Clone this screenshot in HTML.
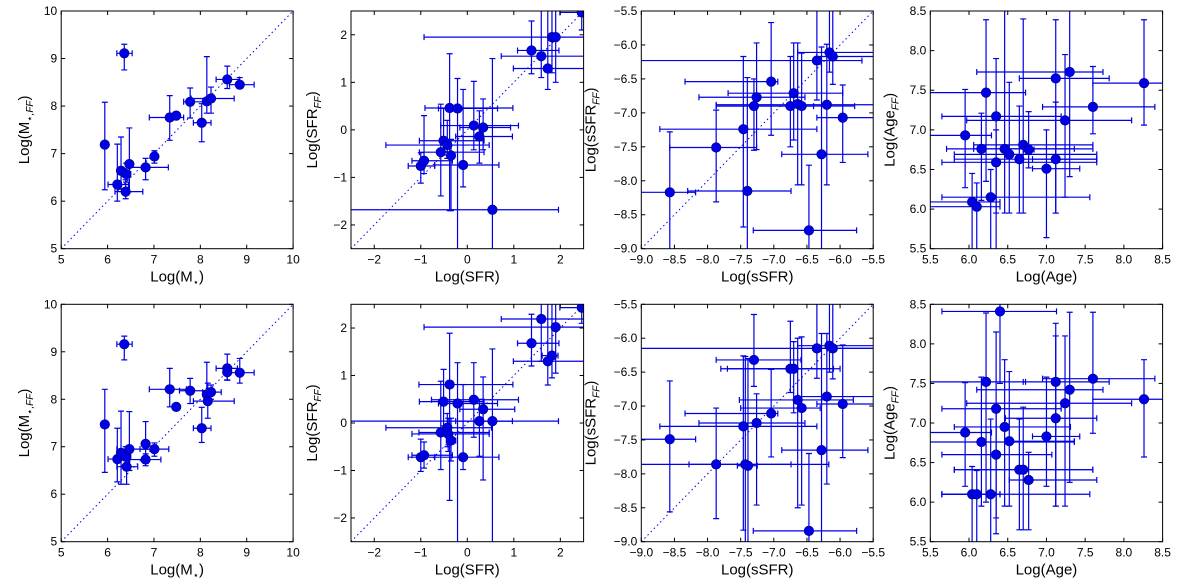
<!DOCTYPE html>
<html><head><meta charset="utf-8"><style>
html,body{margin:0;padding:0;background:#fff;}
svg{display:block;font-family:"Liberation Sans","DejaVu Sans",sans-serif;}
</style></head><body>
<svg id="chart" width="1200" height="586" viewBox="0 0 1200 586" xmlns="http://www.w3.org/2000/svg"></svg>
<script>
// ---- Panel 1: Log(M*) top ----
const p1X=[5.94,6.36,6.21,6.29,6.40,6.39,6.47,6.82,7.01,7.34,7.48,7.78,8.03,8.14,8.23,8.58,8.85];
const p1Y=[7.19,9.11,6.35,6.64,6.57,6.20,6.78,6.71,6.94,7.76,7.80,8.09,7.65,8.10,8.16,8.56,8.45];
const p1XLo=[5.89,6.20,6.01,6.25,6.30,6.16,6.42,6.48,6.95,6.90,7.43,7.64,7.85,8.10,7.80,8.34,8.63];
const p1XHi=[5.99,6.53,6.45,6.33,6.50,6.76,6.52,7.31,7.07,7.64,7.53,8.13,8.23,8.18,8.73,8.84,9.16];
const p1YLo=[6.24,8.76,6.00,6.25,6.40,6.05,6.20,6.45,6.80,7.28,7.75,7.75,7.25,7.85,7.85,8.37,8.37];
const p1YHi=[8.08,9.30,7.20,7.35,6.80,6.45,7.54,6.90,7.06,8.22,7.85,8.38,8.05,9.04,8.40,8.84,8.60];
// ---- Panel 2: Log(SFR) top ----
const p2X=[-1.0,-0.93,-0.57,-0.51,-0.43,-0.38,-0.35,-0.21,-0.09,0.14,0.34,0.26,0.54,1.38,1.59,1.73,1.82,1.90,2.46];
const p2Y=[-0.76,-0.65,-0.47,-0.23,-0.32,0.46,-0.54,0.45,-0.74,0.09,0.05,-0.14,-1.68,1.67,1.55,1.29,1.95,1.95,2.47];
const p2XLo=[-1.27,-1.19,-1.03,-1.03,-1.75,-0.91,-0.40,-0.62,-0.70,-0.57,-0.16,-0.25,-2.57,1.08,0.73,0.99,-0.93,1.85,1.99];
const p2XHi=[-0.70,-0.32,0.36,0.36,0.47,0.98,-0.30,0.65,0.68,1.10,0.93,0.97,1.96,1.97,2.6,2.6,2.6,1.95,2.6];
const p2YLo=[-1.12,-0.92,-1.39,-0.53,-0.6,-1.7,-1.7,-2.6,-1.20,-0.42,-0.42,-0.7,-2.6,1.18,1.1,0.85,1.2,1.0,2.1];
const p2YHi=[-0.48,0.30,0.54,0.45,0.2,1.60,-0.2,1.08,0.85,1.02,0.65,0.4,1.50,2.29,2.6,2.6,2.6,2.6,2.6];
// ---- Panel 3: Log(sSFR) top ----
const p3X=[-8.57,-7.87,-7.46,-7.40,-7.30,-7.26,-7.04,-6.75,-6.70,-6.64,-6.58,-6.47,-6.35,-6.28,-6.20,-6.16,-6.11,-5.96];
const p3Y=[-8.17,-7.51,-7.24,-8.15,-6.90,-6.77,-6.54,-6.90,-6.71,-6.87,-6.90,-8.73,-6.23,-7.61,-6.88,-6.11,-6.17,-7.07];
const p3XLo=[-9.1,-8.57,-8.72,-8.30,-7.87,-8.13,-8.34,-7.87,-7.69,-6.70,-6.80,-7.31,-9.1,-6.88,-7.87,-6.64,-6.35,-6.35];
const p3XHi=[-8.18,-7.26,-6.35,-6.74,-6.70,-6.53,-6.94,-5.78,-5.96,-6.58,-6.40,-5.75,-5.67,-5.58,-5.4,-5.4,-5.4,-5.4];
const p3YLo=[-9.1,-8.31,-8.68,-9.1,-7.55,-7.54,-7.33,-7.5,-7.4,-8.06,-8.06,-9.1,-6.81,-9.1,-8.06,-6.4,-6.58,-7.73];
const p3YHi=[-7.28,-6.96,-6.17,-6.48,-6.50,-5.97,-5.67,-6.17,-5.97,-5.97,-6.12,-7.77,-5.4,-6.03,-5.99,-5.4,-5.4,-6.59];
// ---- Panel 4: Log(Age) top ----
const p4X=[5.95,6.04,6.10,6.16,6.22,6.28,6.35,6.35,6.46,6.52,6.65,6.70,6.77,7.00,7.12,7.12,7.24,7.30,7.60,8.26];
const p4Y=[6.93,6.09,6.03,6.76,7.47,6.15,7.17,6.59,6.76,6.69,6.63,6.81,6.75,6.51,6.63,7.65,7.12,7.73,7.29,7.59];
const p4XLo=[5.4,5.4,5.4,5.71,5.4,5.65,5.65,5.65,6.06,5.81,5.81,6.06,6.7,6.82,6.82,6.65,5.97,6.10,6.95,7.60];
const p4XHi=[6.29,6.40,6.40,7.36,6.73,7.56,7.19,7.65,7.60,7.65,7.65,7.60,6.84,7.43,7.65,7.81,8.10,7.73,8.40,8.6];
const p4YLo=[6.27,5.4,5.4,6.11,6.35,5.4,5.95,5.4,5.95,5.95,5.95,5.95,6.52,5.64,5.95,5.95,6.15,6.41,6.95,7.06];
const p4YHi=[7.51,6.45,6.33,7.21,8.39,6.5,7.9,7.0,8.6,7.6,7.3,8.4,7.23,7.0,7.35,8.39,7.95,8.6,7.8,8.39];
// ---- Panel 5: Log(M*) bottom ----
const p5X=[5.94,6.36,6.21,6.29,6.39,6.41,6.47,6.82,6.82,7.01,7.34,7.48,7.78,8.03,8.14,8.23,8.16,8.58,8.58,8.85];
const p5Y=[7.47,9.16,6.74,6.87,6.79,6.58,6.95,7.06,6.73,6.95,8.21,7.84,8.18,7.39,8.10,8.15,7.96,8.65,8.57,8.56];
const p5XLo=[5.89,6.20,6.01,6.25,6.30,6.20,6.20,6.77,6.48,6.70,6.90,7.43,7.55,7.85,8.10,8.05,7.85,8.34,8.53,8.63];
const p5XHi=[5.99,6.53,6.45,6.33,6.50,6.65,7.05,6.87,7.15,7.32,7.70,7.53,8.13,8.23,8.18,8.45,8.73,8.80,8.63,9.16];
const p5YLo=[6.46,8.83,6.26,6.21,6.60,6.21,6.50,6.65,6.60,6.80,7.84,7.79,7.91,7.09,7.91,8.0,7.6,8.41,8.40,8.34];
const p5YHi=[8.21,9.33,7.39,7.75,7.0,6.76,7.74,7.53,6.85,7.08,8.65,7.89,8.44,7.83,8.78,8.3,8.34,8.95,8.7,8.86];
// ---- Panel 6: Log(SFR) bottom ----
const p6X=[-1.0,-0.93,-0.57,-0.51,-0.38,-0.43,-0.41,-0.35,-0.21,-0.09,0.14,0.34,0.26,0.54,1.38,1.59,1.73,1.82,1.90,2.46];
const p6Y=[-0.72,-0.68,-0.20,0.45,0.81,-0.10,-0.23,-0.37,0.41,-0.72,0.49,0.29,0.04,0.04,1.68,2.19,1.30,1.42,2.02,2.43];
const p6XLo=[-1.27,-1.19,-1.04,-1.03,-1.04,-1.75,-1.19,-0.45,-0.62,-0.70,-0.77,-0.16,-0.25,-2.57,1.08,0.73,0.99,1.61,-0.93,1.99];
const p6XHi=[-0.70,-0.32,0.47,0.36,0.98,0.52,0.47,-0.25,0.65,0.68,1.10,1.02,0.97,1.96,1.97,2.6,2.6,1.95,2.6,2.6];
const p6YLo=[-1.02,-0.95,-0.98,-0.06,-1.63,-0.5,-0.6,-0.8,-2.6,-0.98,-0.3,-1.2,-0.7,-2.6,1.2,1.3,0.8,0.95,1.05,2.1];
const p6YHi=[-0.34,-0.4,0.88,1.13,1.89,0.2,0.1,0.1,1.27,0.81,1.27,0.97,0.5,1.56,2.29,2.6,2.6,2.6,2.6,2.6];
// ---- Panel 7: Log(sSFR) bottom ----
const p7X=[-8.57,-7.87,-7.46,-7.43,-7.39,-7.30,-7.26,-7.04,-6.75,-6.70,-6.64,-6.58,-6.47,-6.35,-6.28,-6.20,-6.16,-6.11,-5.96];
const p7Y=[-7.49,-7.86,-7.30,-7.86,-7.88,-6.32,-7.25,-7.11,-6.45,-6.45,-6.91,-7.03,-8.84,-6.15,-7.65,-6.86,-6.11,-6.15,-6.97];
const p7XLo=[-9.1,-8.28,-8.72,-9.1,-7.55,-7.87,-8.13,-8.34,-7.70,-7.80,-7.52,-7.5,-7.31,-9.1,-6.88,-6.64,-6.64,-6.35,-6.35];
const p7XHi=[-8.18,-6.74,-6.35,-6.17,-7.25,-6.59,-6.53,-6.94,-6.0,-6.1,-5.8,-6.3,-5.75,-5.4,-5.58,-5.4,-5.4,-5.4,-5.4];
const p7YLo=[-8.56,-8.66,-8.83,-9.1,-9.1,-6.71,-8.46,-7.75,-6.8,-7.1,-8.5,-8.46,-9.1,-6.59,-9.1,-8.15,-6.5,-6.6,-7.76];
const p7YHi=[-6.63,-7.03,-6.26,-6.27,-6.3,-5.65,-6.82,-6.46,-5.75,-6.05,-6.0,-5.98,-7.7,-5.4,-5.93,-5.93,-5.4,-5.4,-6.1];
// ---- Panel 8: Log(Age) bottom ----
const p8X=[5.95,6.04,6.10,6.16,6.22,6.28,6.35,6.35,6.40,6.46,6.52,6.65,6.70,6.77,7.00,7.12,7.12,7.24,7.30,7.60,8.26];
const p8Y=[6.88,6.10,6.10,6.76,7.52,6.10,7.18,6.60,8.41,6.95,6.77,6.41,6.41,6.28,6.83,7.06,7.52,7.25,7.42,7.56,7.30];
const p8XLo=[5.4,5.65,5.65,5.4,5.4,5.65,5.65,5.65,5.65,5.81,6.47,5.81,5.81,6.52,6.82,6.47,6.70,5.97,6.10,6.95,7.60];
const p8XHi=[6.29,6.40,6.40,7.36,6.73,7.56,7.19,7.07,7.13,7.31,7.36,7.60,7.60,7.65,7.43,7.65,7.81,8.10,7.73,8.40,8.6];
const p8YLo=[6.2,5.4,5.4,5.95,6.0,5.4,5.6,5.8,7.5,5.95,5.95,5.65,5.65,5.65,6.2,5.95,5.95,5.95,6.25,6.87,6.57];
const p8YHi=[7.51,6.45,6.4,7.58,8.39,7.05,8.15,7.2,8.6,7.8,7.65,7.05,7.2,6.63,7.58,8.1,8.26,8.1,8.4,8.4,7.8];
// ---- Tick labels ----
const massTicks=["5","6","7","8","9","10"];
const sfrTicks=["−2","−1","0","1","2"];
const ssfrTicks=["−9.0","−8.5","−8.0","−7.5","−7.0","−6.5","−6.0","−5.5"];
const ageTicks=["5.5","6.0","6.5","7.0","7.5","8.0","8.5"];

const NS="http://www.w3.org/2000/svg";
const svg=document.getElementById('chart');
function mk(tag,attrs,parent){const e=document.createElementNS(NS,tag);for(const k in attrs)e.setAttribute(k,attrs[k]);(parent||svg).appendChild(e);return e;}
function num(s){return parseFloat(s.replace('−','-'));}

const cols=[[61.2,293.1],[351,583.6],[641.3,873.2],[930.3,1162.6]];
const rows=[[11,248.7],[304.3,541.7]];
const kinds=[
 {dom:[5,10],ticks:massTicks,xl:['Log(M','⋆',')'],yl:['Log(M','⋆,FF',')'],key:'mass',diag:true,yoff:32},
 {dom:[-2.5,2.5],ticks:sfrTicks,xl:['Log(SFR)','',''],yl:['Log(SFR','FF',')'],key:'sfr',diag:true,yoff:34},
 {dom:[-9,-5.5],ticks:ssfrTicks,xl:['Log(sSFR)','',''],yl:['Log(sSFR','FF',')'],key:'ssfr',diag:true,yoff:46},
 {dom:[5.5,8.5],ticks:ageTicks,xl:['Log(Age)','',''],yl:['Log(Age','FF',')'],key:'age',diag:false,yoff:36}
];
const data=[
 [p1X,p1Y,p1XLo,p1XHi,p1YLo,p1YHi],[p2X,p2Y,p2XLo,p2XHi,p2YLo,p2YHi],
 [p3X,p3Y,p3XLo,p3XHi,p3YLo,p3YHi],[p4X,p4Y,p4XLo,p4XHi,p4YLo,p4YHi],
 [p5X,p5Y,p5XLo,p5XHi,p5YLo,p5YHi],[p6X,p6Y,p6XLo,p6XHi,p6YLo,p6YHi],
 [p7X,p7Y,p7XLo,p7XHi,p7YLo,p7YHi],[p8X,p8Y,p8XLo,p8XHi,p8YLo,p8YHi]
];
const BLUE='#0000e6';

function label(g,parts,x,y,rot,name){
  const t=mk('text',{x:x,y:y,'font-size':15,'text-anchor':'middle',fill:'#000'},g);
  if(rot) t.setAttribute('transform','rotate(-90 '+x+' '+y+')');
  
  
  t.appendChild(document.createTextNode(parts[0]));
  if(parts[1]){const s=mk('tspan',{'font-size':10,'font-style':'italic',dy:4},t);s.textContent=parts[1];
    const c=mk('tspan',{dy:-4},t);c.textContent=parts[2];}
}

for(let r=0;r<2;r++)for(let c=0;c<4;c++){
  const idx=r*4+c,k=kinds[c],d=data[idx];
  const [L,R]=cols[c],[T,B]=rows[r];
  const [d0,d1]=k.dom;
  const sx=v=>L+(v-d0)/(d1-d0)*(R-L);
  const sy=v=>B-(v-d0)/(d1-d0)*(B-T);
  const g=mk('g',{});
  
  
  const cid='clip'+idx;
  const cp=mk('clipPath',{id:cid},g);mk('rect',{x:L,y:T,width:R-L,height:B-T},cp);
  const pg=mk('g',{'clip-path':'url(#'+cid+')'},g);
  if(k.diag){
    const diag=mk('line',{x1:sx(d0),y1:sy(d0),x2:sx(d1),y2:sy(d1),stroke:BLUE,'stroke-width':1,'stroke-dasharray':'1.5,3'},pg);
    
    
  }
  const [X,Y,XLo,XHi,YLo,YHi]=d;
  for(let i=0;i<X.length;i++){
    const eg=mk('g',{stroke:BLUE,'stroke-width':1.2},pg);
    
    
    const x=sx(X[i]),y=sy(Y[i]);
    mk('line',{x1:sx(XLo[i]),y1:y,x2:sx(XHi[i]),y2:y},eg);
    mk('line',{x1:x,y1:sy(YLo[i]),x2:x,y2:sy(YHi[i])},eg);
    mk('line',{x1:sx(XLo[i]),y1:y-3,x2:sx(XLo[i]),y2:y+3},eg);
    mk('line',{x1:sx(XHi[i]),y1:y-3,x2:sx(XHi[i]),y2:y+3},eg);
    mk('line',{x1:x-3,y1:sy(YLo[i]),x2:x+3,y2:sy(YLo[i])},eg);
    mk('line',{x1:x-3,y1:sy(YHi[i]),x2:x+3,y2:sy(YHi[i])},eg);
  }
  for(let i=0;i<X.length;i++){
    const p=mk('circle',{cx:sx(X[i]),cy:sy(Y[i]),r:4.8,fill:BLUE,stroke:'#000080','stroke-width':0.6},pg);
    
    
  }
  const fr=mk('rect',{x:L,y:T,width:R-L,height:B-T,fill:'none',stroke:'#000','stroke-width':1},g);
  
  
  for(const tl of k.ticks){
    const v=num(tl),px=sx(v),py=sy(v);
    mk('line',{x1:px,y1:B,x2:px,y2:B-4,stroke:'#000'},g);
    mk('line',{x1:px,y1:T,x2:px,y2:T+4,stroke:'#000'},g);
    mk('line',{x1:L,y1:py,x2:L+4,y2:py,stroke:'#000'},g);
    mk('line',{x1:R,y1:py,x2:R-4,y2:py,stroke:'#000'},g);
    const xt=mk('text',{x:px,y:B+15,'font-size':12,'text-anchor':'middle',fill:'#000'},g);
    xt.textContent=tl;
    
    
    const yt=mk('text',{x:L-4,y:py+4,'font-size':12,'text-anchor':'end',fill:'#000'},g);
    yt.textContent=tl;
    
    
  }
  label(g,k.xl,(L+R)/2,B+33,false,'x-axis-title');
  label(g,k.yl,L-k.yoff,(T+B)/2,true,'y-axis-title');
}
</script>
</body></html>
